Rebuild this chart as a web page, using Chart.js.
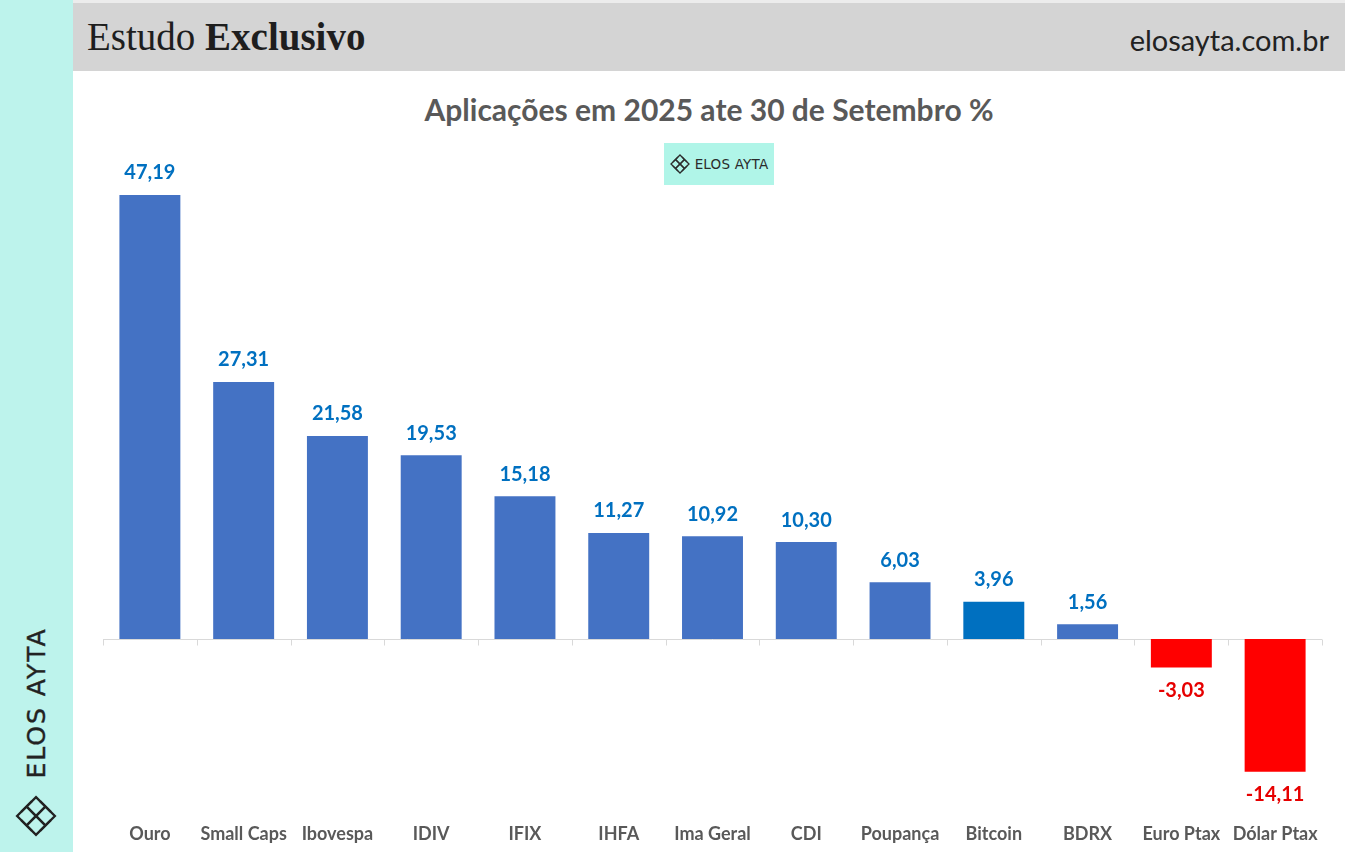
<!DOCTYPE html>
<html>
<head>
<meta charset="utf-8">
<script src="https://cdn.jsdelivr.net/npm/chart.js@4.4.0/dist/chart.umd.min.js"></script>
<style>
body{margin:0;width:1345px;height:852px;position:relative;overflow:hidden;background:#fff;font-family:Lato,sans-serif}
#side{position:absolute;left:0;top:0;width:73px;height:852px;background:#bdf3ec}
#topline{position:absolute;left:73px;top:0;width:1272px;height:3px;background:#ececec}
#head{position:absolute;left:73px;top:3px;width:1272px;height:68px;background:#d4d4d4}
#head .t{position:absolute;left:14px;top:11px;font-family:"Liberation Serif",serif;font-size:39px;color:#1e1e1e}
#head .t b{font-weight:bold}
#head .s{position:absolute;right:16px;top:19px;font-family:Lato,sans-serif;font-size:29px;color:#222}
#title{position:absolute;left:73px;width:1272px;top:91px;text-align:center;font-weight:bold;font-size:30px;color:#595959}
#badge{position:absolute;left:664px;top:143px;width:110px;height:42px;background:#b0f5e8;display:flex;align-items:center;justify-content:center;font-family:"DejaVu Sans",sans-serif;font-size:13.5px;color:#2b2b2b;letter-spacing:0.2px}
#badge svg{margin-right:5px}
#vtext{position:absolute;left:36px;top:703px;transform:translate(-50%,-50%) rotate(-90deg);font-family:"DejaVu Sans",sans-serif;font-size:25px;color:#222;letter-spacing:2px;white-space:nowrap;-webkit-text-stroke:0.4px #222}
#vlogo{position:absolute;left:15px;top:795px}
#wrap{position:absolute;left:73px;top:70px;width:1272px;height:782px}
</style>
</head>
<body>
<div id="side"></div>
<div id="topline"></div>
<div id="head"><div class="t">Estudo <b>Exclusivo</b></div><div class="s">elosayta.com.br</div></div>
<div id="title">Aplicações em 2025 ate 30 de Setembro %</div>
<div id="badge">
  <svg width="20" height="20" viewBox="0 0 40 40"><g fill="none" stroke="#2b2b2b" stroke-width="2.6">
    <path d="M20 2 L38 20 L20 38 L2 20 Z"/><path d="M11 11 L29 29 M29 11 L11 29"/>
    <path d="M11 11 L20 20 L29 11 M11 29 L20 20 L29 29"/><path d="M6 16 L16 6 M24 6 L34 16 M6 24 L16 34 M24 34 L34 24"/></g></svg>
  ELOS AYTA
</div>
<div id="vtext">ELOS AYTA</div>
<svg id="vlogo" width="42" height="42" viewBox="0 0 40 40"><g fill="none" stroke="#222" stroke-width="2.2">
  <path d="M20 2 L38 20 L20 38 L2 20 Z"/><path d="M11 11 L20 20 L29 11 M11 29 L20 20 L29 29"/>
  <path d="M6 16 L16 6 M24 6 L34 16 M6 24 L16 34 M24 34 L34 24"/><path d="M11 11 L29 29 M29 11 L11 29"/></g></svg>
<div id="wrap"><canvas id="chart"></canvas></div>
<script>
// Dados do gráfico
const categories = ["Ouro", "Small Caps", "Ibovespa", "IDIV", "IFIX", "IHFA", "Ima Geral", "CDI", "Poupança", "Bitcoin", "BDRX", "Euro Ptax", "Dólar Ptax"];
const values = [47.19, 27.31, 21.58, 19.53, 15.18, 11.27, 10.92, 10.30, 6.03, 3.96, 1.56, -3.03, -14.11];
const highlighted = ["Bitcoin"];

const barColors = categories.map((c, i) => {
    if (values[i] < 0) return "#ff0000";
    if (highlighted.includes(c)) return "#0070c0";
    return "#4472c4";
});

function fmt(v) {
    return v.toFixed(2).replace('.', ',');
}

// Linha do zero com marcas entre categorias
const zeroLine = {
    id: 'zeroLine',
    beforeDatasetsDraw(chart) {
        const { ctx, scales: { x, y } } = chart;
        const y0 = Math.round(y.getPixelForValue(0)) + 0.5;
        ctx.save();
        ctx.strokeStyle = '#d9d9d9';
        ctx.lineWidth = 1;
        ctx.beginPath();
        ctx.moveTo(x.left, y0);
        ctx.lineTo(x.right, y0);
        const step = x.width / categories.length;
        for (let i = 0; i <= categories.length; i++) {
            const px = Math.round(x.left + i * step) + 0.5;
            ctx.moveTo(px, y0);
            ctx.lineTo(px, y0 + 6);
        }
        ctx.stroke();
        ctx.restore();
    }
};

// Rótulos de valor
const valueLabels = {
    id: 'valueLabels',
    afterDatasetsDraw(chart) {
        const ctx = chart.ctx;
        const meta = chart.getDatasetMeta(0);
        ctx.save();
        ctx.font = 'bold 20px Lato';
        ctx.textAlign = 'center';
        ctx.textBaseline = 'middle';
        meta.data.forEach((bar, i) => {
            const v = values[i];
            ctx.fillStyle = v < 0 ? '#e60000' : '#0070c0';
            ctx.fillText(fmt(v), bar.x, v < 0 ? bar.y + 23 : bar.y - 22);
        });
        ctx.restore();
    }
};

new Chart(document.getElementById('chart'), {
    type: 'bar',
    data: {
        labels: categories,
        datasets: [{
            data: values,
            backgroundColor: barColors,
            borderWidth: 0,
            barPercentage: 0.65,
            categoryPercentage: 1
        }]
    },
    options: {
        responsive: true,
        maintainAspectRatio: false,
        animation: false,
        layout: { padding: { left: 30, right: 23, top: 98.5, bottom: 8 } },
        plugins: {
            legend: { display: false },
            tooltip: { enabled: false }
        },
        scales: {
            x: {
                grid: { display: false },
                border: { display: false },
                afterFit(scale) { scale.height = 45; },
                ticks: {
                    color: '#595959',
                    padding: 16,
                    maxRotation: 0,
                    autoSkip: false,
                    font: { family: 'Lato', weight: 'bold', size: 18 }
                }
            },
            y: {
                display: false,
                min: -17,
                max: 50
            }
        }
    },
    plugins: [zeroLine, valueLabels]
});
</script>
</body>
</html>
